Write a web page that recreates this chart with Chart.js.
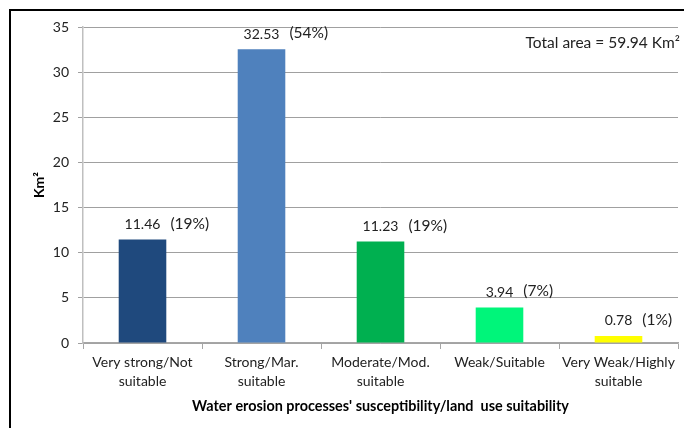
<!DOCTYPE html>
<html>
<head>
<meta charset="utf-8">
<script src="https://cdn.jsdelivr.net/npm/chart.js@4"></script>
<style>
  html, body { margin: 0; padding: 0; background: #fff; overflow: hidden; }
  #wrap { position: relative; width: 684px; height: 428px; overflow: hidden; }
  #frame { position: absolute; left: 9px; top: 9px; width: 740px; height: 520px; border: 2px solid #000; box-sizing: border-box; }
  canvas { position: absolute; left: 0; top: 0; }
</style>
</head>
<body>
<div id="wrap">
  <div id="frame"></div>
  <canvas id="c" width="684" height="428"></canvas>
</div>
<script>
// Susceptibility / suitability classes (multi-line axis labels)
const categories = [
  ["Very strong/Not", "suitable"],
  ["Strong/Mar.", "suitable"],
  ["Moderate/Mod.", "suitable"],
  ["Weak/Suitable"],
  ["Very Weak/Highly", "suitable"]
];
// Area of each class, km²
const areaKm2 = [11.46, 32.53, 11.23, 3.94, 0.78];
// Share of the total area
const shareLabels = ["(19%)", "(54%)", "(19%)", "(7%)", "(1%)"];
const barColors = ["#1F497D", "#4F81BD", "#00B050", "#00F57A", "#FFFF00"];
const yMin = 0, yMax = 35, yStep = 5;
const totalLabel = "Total area = 59.94 Km\u00B2";
const xTitle = "Water erosion processes' susceptibility/land  use suitability";
const yTitle = "Km\u00B2";

const FONT = "Lato, 'Open Sans', sans-serif";

const labelPlugin = {
  id: 'barLabels',
  afterDatasetsDraw(chart) {
    const ctx = chart.ctx;
    const meta = chart.getDatasetMeta(0);
    ctx.save();
    ctx.fillStyle = "#222";
    ctx.textBaseline = "middle";
    meta.data.forEach((bar, i) => {
      const txt = areaKm2[i].toFixed(2);
      const y = bar.y - 15;
      ctx.font = "14px " + FONT;
      ctx.textAlign = "center";
      ctx.fillText(txt, bar.x, y);
      const w = ctx.measureText(txt).width;
      ctx.font = "15.5px " + FONT;
      ctx.textAlign = "left";
      ctx.fillText(shareLabels[i], bar.x + w / 2 + 10, y - 1);
    });
    // total area note, top right of the plot
    ctx.textAlign = "right";
    ctx.font = "15.5px " + FONT;
    ctx.fillText(totalLabel, chart.chartArea.right + 2, chart.chartArea.top + 16);
    ctx.restore();
  }
};

new Chart(document.getElementById('c'), {
  type: 'bar',
  data: {
    labels: categories,
    datasets: [{
      data: areaKm2,
      backgroundColor: barColors,
      borderWidth: 0,
      barPercentage: 0.4,
      categoryPercentage: 1.0
    }]
  },
  options: {
    responsive: false,
    animation: false,
    layout: { padding: { left: 0, top: 27, right: 6, bottom: 0 } },
    plugins: {
      legend: { display: false },
      tooltip: { enabled: false }
    },
    scales: {
      x: {
        grid: {
          display: true,
          drawOnChartArea: false,
          drawTicks: true,
          tickLength: 6,
          color: "#A6A6A6",
          offset: true
        },
        border: { color: "#A6A6A6", width: 1.5 },
        ticks: {
          color: "#222",
          font: { family: FONT, size: 14, lineHeight: 1.35 },
          padding: 4,
          maxRotation: 0,
          autoSkip: false
        },
        title: {
          display: true,
          text: xTitle,
          color: "#000",
          font: { family: FONT, size: 14.4, weight: "bold" },
          padding: { top: 0, bottom: 13 }
        },
        afterFit(scale) { scale.height = 85; }
      },
      y: {
        min: yMin,
        max: yMax,
        ticks: {
          stepSize: yStep,
          color: "#222",
          font: { family: FONT, size: 14 },
          padding: 9
        },
        grid: {
          color: "#A0A0A0",
          tickLength: 5,
          lineWidth: 1
        },
        border: { color: "#BFBFBF", width: 1.5 },
        title: {
          display: true,
          text: yTitle,
          color: "#000",
          font: { family: FONT, size: 14, weight: "bold" },
          padding: { top: 31, bottom: 0 }
        },
        afterFit(scale) { scale.width = 83; }
      }
    }
  },
  plugins: [labelPlugin]
});
</script>
</body>
</html>
